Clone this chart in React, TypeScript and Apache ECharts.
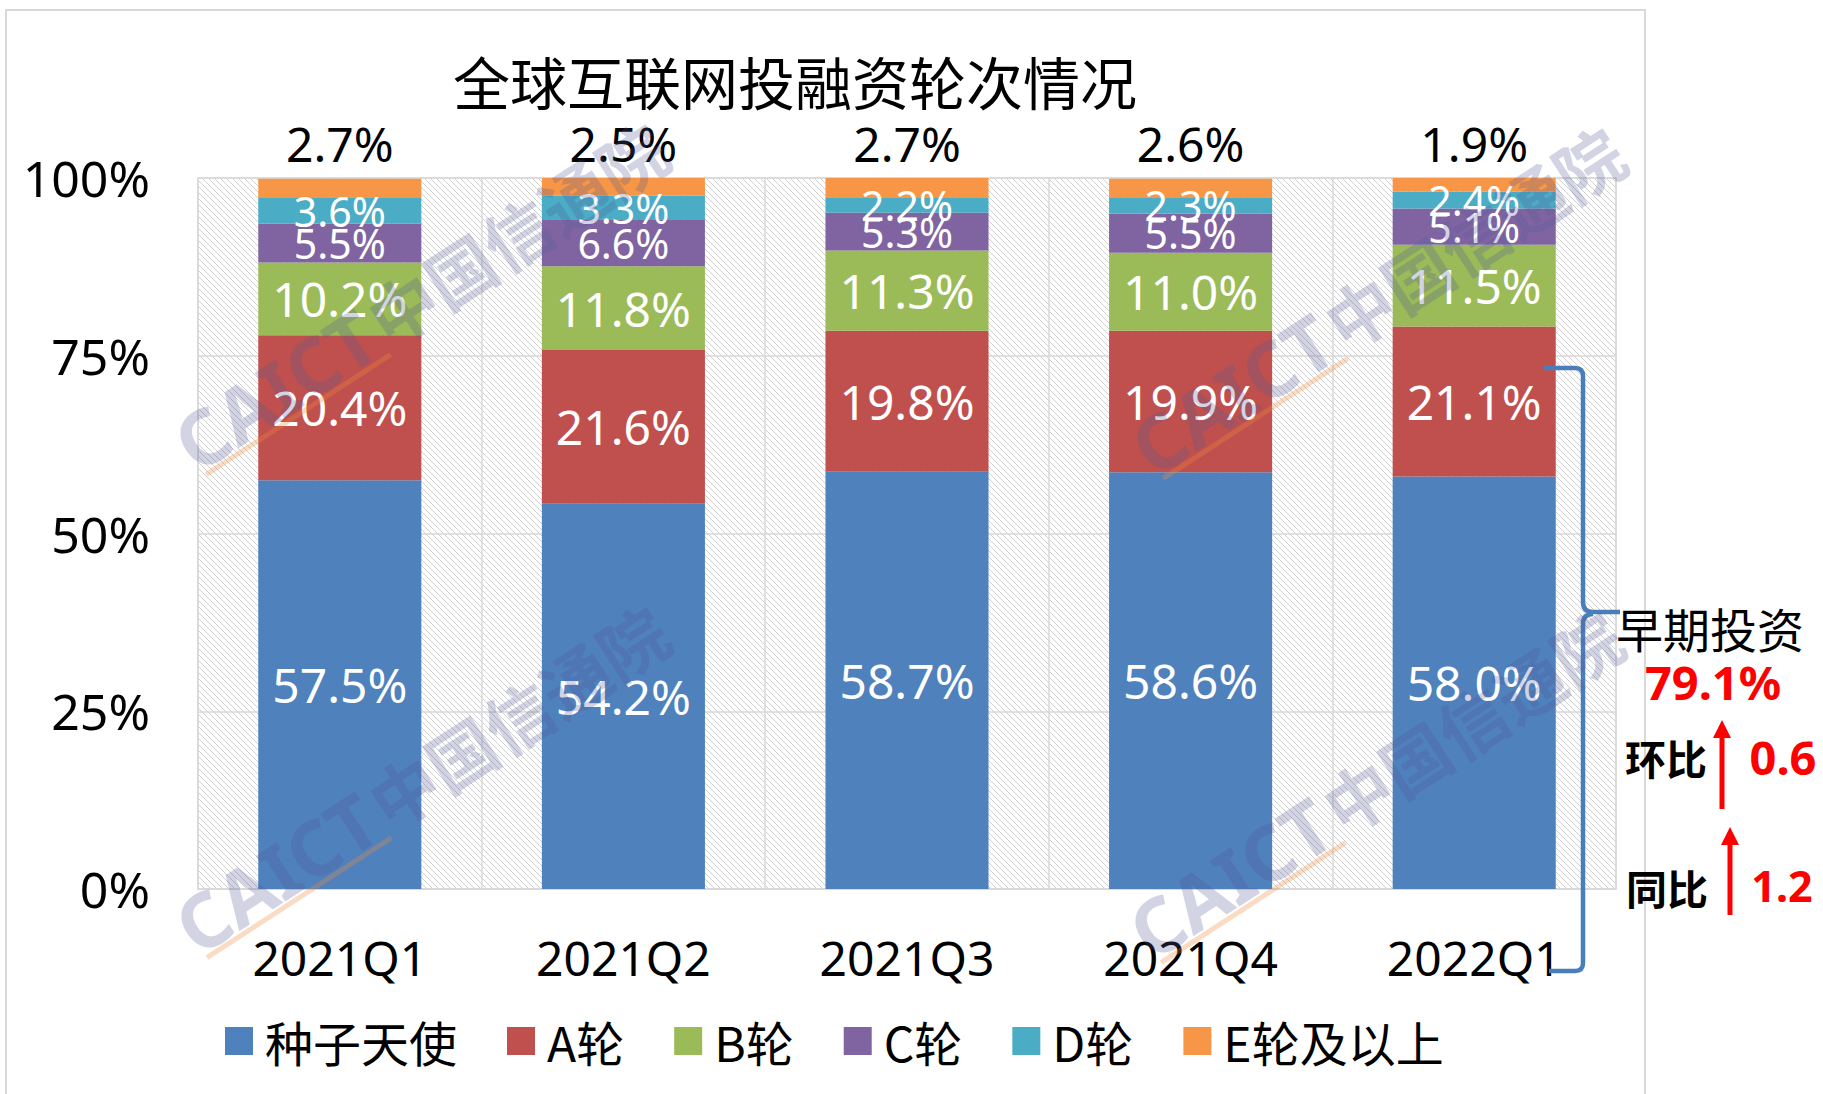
import React, { useEffect, useRef } from 'react';
import * as echarts from 'echarts';

// ---------- data ----------
const categories = ['2021Q1', '2021Q2', '2021Q3', '2021Q4', '2022Q1'];
const seriesNames = ['种子天使', 'A轮', 'B轮', 'C轮', 'D轮', 'E轮及以上'];
const seedAngel = [57.5, 54.2, 58.7, 58.6, 58.0];
const roundA = [20.4, 21.6, 19.8, 19.9, 21.1];
const roundB = [10.2, 11.8, 11.3, 11.0, 11.5];
const roundC = [5.5, 6.6, 5.3, 5.5, 5.1];
const roundD = [3.6, 3.3, 2.2, 2.3, 2.4];
const roundE = [2.7, 2.5, 2.7, 2.6, 1.9];
const yTicks = [0, 25, 50, 75, 100];
const titleText = '全球互联网投融资轮次情况';
const annotationLabel = '早期投资';
const qoqLabel = '环比';
const yoyLabel = '同比';

const seriesData = [seedAngel, roundA, roundB, roundC, roundD, roundE];
const colors = ['#4f81bd', '#c0504d', '#9bbb59', '#8064a2', '#4bacc6', '#f79646'];

const last = categories.length - 1;
const early = (i: number) => seedAngel[i] + roundA[i];
const earlyNow = early(last);
const qoq = earlyNow - early(last - 1);
const yoy = earlyNow - early(last - 4);

echarts.graphic.registerShape(
  'bracket',
  echarts.graphic.extendPath(
    'M1544,368 L1575,368 Q1583,368 1583,376 L1583,602 Q1583,612 1593,612 L1620,612 M1593,614 Q1583,614 1583,624 L1583,963 Q1583,971 1575,971 L1549,971',
    {}
  )
);

function makeHatch() {
  const c = document.createElement('canvas');
  c.width = 6;
  c.height = 6;
  const ctx = c.getContext('2d')!;
  ctx.fillStyle = '#ffffff';
  ctx.fillRect(0, 0, 6, 6);
  ctx.strokeStyle = '#d0d0d0';
  ctx.lineWidth = 1;
  ctx.beginPath();
  ctx.moveTo(-1, -1);
  ctx.lineTo(7, 7);
  ctx.moveTo(-1, 5);
  ctx.lineTo(1, 7);
  ctx.moveTo(5, -1);
  ctx.lineTo(7, 1);
  ctx.stroke();
  return c;
}

function watermark(cx: number, cy: number) {
  const fill = 'rgba(80,90,150,0.26)';
  return {
    type: 'group',
    x: cx,
    y: cy,
    rotation: (33 * Math.PI) / 180,
    z: 100,
    silent: true,
    children: [
      {
        type: 'line',
        z: 100,
        shape: { x1: -280, y1: 31, x2: -60, y2: 31 },
        style: { stroke: 'rgba(240,140,60,0.3)', lineWidth: 5 },
      },
      {
        type: 'text',
        z: 100,
        x: -64,
        y: -3,
        style: {
          text: 'CAICT',
          align: 'right',
          verticalAlign: 'middle',
          fontSize: 76,
          fontWeight: 'bold',
          fontFamily: 'Noto Sans',
          fill,
        },
      },
      {
        type: 'text',
        z: 100,
        x: -58,
        y: -3,
        style: {
          text: '中国信通院',
          align: 'left',
          verticalAlign: 'middle',
          fontSize: 68,
          fontWeight: 'bold',
          fontFamily: 'Noto Sans CJK SC',
          fill,
        },
      },
    ],
  };
}

function arrow(x: number, top: number, bottom: number) {
  return [
    {
      type: 'line',
      z: 50,
      shape: { x1: x, y1: top + 14, x2: x, y2: bottom },
      style: { stroke: '#ff0000', lineWidth: 5 },
    },
    {
      type: 'polygon',
      z: 50,
      shape: { points: [[x, top], [x - 9, top + 18], [x + 9, top + 18]] },
      style: { fill: '#ff0000' },
    },
  ];
}

export default function App() {
  const ref = useRef<HTMLDivElement>(null);

  useEffect(() => {
    if (!ref.current) return;
    const chart = echarts.init(ref.current, undefined, { renderer: 'svg' });
    const hatch = makeHatch();

    const series = seriesNames.map((name, i) => {
      const isTop = i === seriesNames.length - 1;
      const small = i === 3 || i === 4;
      return {
        name,
        type: 'bar',
        stack: 'total',
        data: seriesData[i],
        barCategoryGap: '42.5%',
        itemStyle: { color: colors[i] },
        label: {
          show: true,
          position: isTop ? 'top' : 'inside',
          distance: isTop ? 11 : 5,
          color: isTop ? '#000000' : '#ffffff',
          fontSize: small ? 41 : 48,
          fontFamily: 'Noto Sans',
          formatter: (p: any) => Number(p.value).toFixed(1) + '%',
        },
        emphasis: { disabled: true },
      };
    });

    const option: any = {
      animation: false,
      backgroundColor: '#ffffff',
      color: colors,
      title: {
        text: titleText,
        left: 448,
        top: 46,
        textStyle: {
          fontSize: 57,
          fontWeight: 'normal',
          color: '#000000',
          fontFamily: 'Noto Sans CJK SC',
        },
      },
      legend: {
        data: seriesNames,
        left: 220,
        top: 1012,
        icon: 'rect',
        itemWidth: 28,
        itemHeight: 28,
        itemGap: 50,
        selectedMode: false,
        textStyle: {
          fontSize: 48,
          color: '#000000',
          fontFamily: 'Noto Sans CJK SC',
          padding: [0, 0, 0, 7],
        },
      },
      grid: {
        left: 198,
        right: 207,
        top: 178,
        bottom: 205,
        show: true,
        backgroundColor: { image: hatch, repeat: 'repeat', imageWidth: 6, imageHeight: 6 },
        borderColor: '#d9d9d9',
        borderWidth: 1.5,
        containLabel: false,
        outerBoundsMode: 'none',
      },
      xAxis: {
        type: 'category',
        data: categories,
        axisLine: { show: true, lineStyle: { color: '#d9d9d9', width: 1.5 } },
        axisTick: { show: false },
        axisLabel: {
          fontSize: 48,
          color: '#000000',
          margin: 44,
          fontFamily: 'Noto Sans',
        },
        splitLine: { show: true, interval: 0, lineStyle: { color: '#d9d9d9', width: 1.5 } },
      },
      yAxis: {
        type: 'value',
        min: yTicks[0],
        max: yTicks[yTicks.length - 1],
        interval: yTicks[1] - yTicks[0],
        axisLine: { show: false },
        axisTick: { show: false },
        axisLabel: {
          fontSize: 50,
          color: '#000000',
          margin: 48,
          fontFamily: 'Noto Sans',
          padding: [0, 0, 6, 0],
          formatter: (v: number) => v + '%',
        },
        splitLine: { show: true, lineStyle: { color: '#d9d9d9', width: 1.5 } },
      },
      series,
      graphic: [
        {
          type: 'rect',
          z: -10,
          silent: true,
          shape: { x: 6, y: 10, width: 1639, height: 1100 },
          style: { fill: 'none', stroke: '#d9d9d9', lineWidth: 2 },
        },
        watermark(424, 296),
        watermark(425, 779),
        watermark(1381, 300),
        watermark(1379, 784),
        {
          type: 'bracket',
          z: 60,
          style: { fill: 'none', stroke: '#4a7ebb', lineWidth: 4.5 },
        },
        {
          type: 'text',
          z: 60,
          x: 1710,
          y: 627,
          style: {
            text: annotationLabel,
            align: 'center',
            verticalAlign: 'middle',
            fontSize: 47,
            fontFamily: 'Noto Sans CJK SC',
            fill: '#000000',
          },
        },
        {
          type: 'text',
          z: 60,
          x: 1713,
          y: 682,
          style: {
            text: earlyNow.toFixed(1) + '%',
            align: 'center',
            verticalAlign: 'middle',
            fontSize: 47,
            fontWeight: 'bold',
            fontFamily: 'Noto Sans',
            fill: '#ff0000',
          },
        },
        {
          type: 'text',
          z: 60,
          x: 1666,
          y: 757,
          style: {
            text: qoqLabel,
            align: 'center',
            verticalAlign: 'middle',
            fontSize: 41,
            fontWeight: 'bold',
            fontFamily: 'Noto Sans CJK SC',
            fill: '#000000',
          },
        },
        {
          type: 'text',
          z: 60,
          x: 1783,
          y: 757,
          style: {
            text: qoq.toFixed(1),
            align: 'center',
            verticalAlign: 'middle',
            fontSize: 47,
            fontWeight: 'bold',
            fontFamily: 'Noto Sans',
            fill: '#ff0000',
          },
        },
        {
          type: 'text',
          z: 60,
          x: 1667,
          y: 887,
          style: {
            text: yoyLabel,
            align: 'center',
            verticalAlign: 'middle',
            fontSize: 41,
            fontWeight: 'bold',
            fontFamily: 'Noto Sans CJK SC',
            fill: '#000000',
          },
        },
        {
          type: 'text',
          z: 60,
          x: 1782,
          y: 885,
          style: {
            text: yoy.toFixed(1),
            align: 'center',
            verticalAlign: 'middle',
            fontSize: 43,
            fontWeight: 'bold',
            fontFamily: 'Noto Sans',
            fill: '#ff0000',
          },
        },
        ...arrow(1722, 720, 809),
        ...arrow(1730, 827, 915),
      ],
    };

    chart.setOption(option);
    return () => {
      chart.dispose();
    };
  }, []);

  return (
    <div
      ref={ref}
      style={{ position: 'absolute', left: 0, top: 0, width: 1823, height: 1094 }}
    />
  );
}
